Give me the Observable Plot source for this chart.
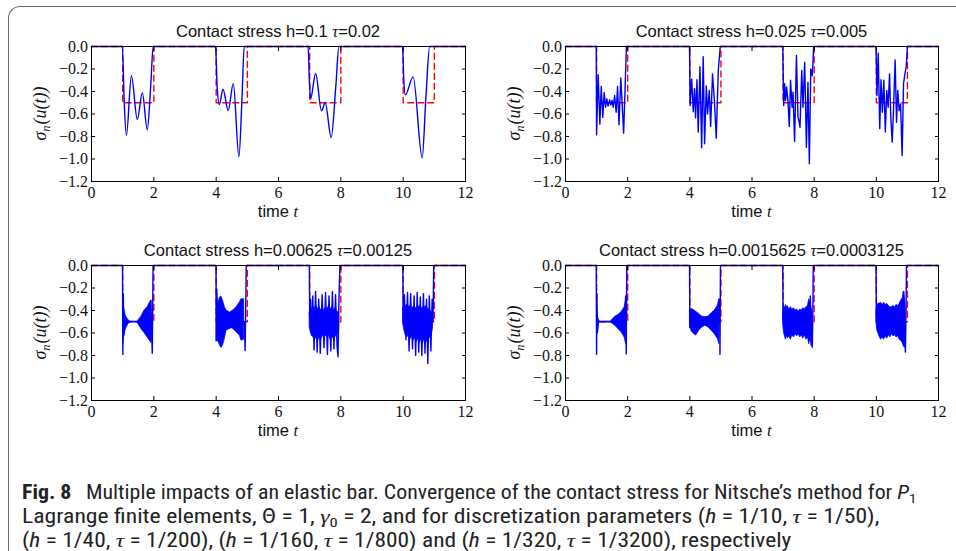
<!DOCTYPE html>
<html>
<head>
<meta charset="utf-8">
<script src="https://cdn.jsdelivr.net/npm/d3@7"></script>
<script src="https://cdn.jsdelivr.net/npm/@observablehq/plot@0.6"></script>
<style>
  html, body { margin: 0; padding: 0; background: #fff; width: 956px; height: 551px; overflow: hidden; }
  #root { position: relative; width: 956px; height: 551px; overflow: hidden; background: #fff; }
  #frame { position: absolute; left: 8px; top: 6px; width: 1000px; height: 620px;
           border-top: 1.5px solid #6a6a6a; border-left: 1.5px solid #6a6a6a; border-top-left-radius: 12px; }
  .panel { position: absolute; }
  .panel text, .panel g[aria-label$="tick label"] { font-family: 'Liberation Serif', 'Times New Roman', serif !important; font-size: 16px !important; font-variant: normal !important; }
  #overlay { position: absolute; left: 0; top: 0; pointer-events: none; }
</style>
</head>
<body>
<div id="root"><div id="frame"></div></div>
<script>
// ---------- data ----------
const xTicks = [0, 2, 4, 6, 8, 10, 12];
const yTicks = [0, -0.2, -0.4, -0.6, -0.8, -1.0, -1.2];
const contactStart = [1, 4, 7, 10];
const contactEnd = [2, 5, 8, 11];
const obstacleStress = -0.5;

const hValues = ["0.1", "0.025", "0.00625", "0.0015625"];
const tauValues = ["0.02", "0.005", "0.00125", "0.0003125"];

// h = 0.1 (smooth)
const p1Time = [0, 0.99, 1.05, 1.12, 1.28, 1.47, 1.63, 1.79, 1.9, 1.98,
  3.98, 4.03, 4.1, 4.22, 4.385, 4.55, 4.73, 4.83, 4.9,
  6.95, 6.99, 7.03, 7.19, 7.38, 7.5, 7.69, 7.84, 7.94,
  9.98, 10.02, 10.07, 10.32, 10.61, 10.73, 10.85, 12];
const p1Stress = [0, 0, -0.5, -0.79, -0.26, -0.65, -0.41, -0.74, -0.35, 0,
  0, -0.35, -0.515, -0.38, -0.57, -0.33, -0.98, -0.45, 0,
  0, -0.3, -0.465, -0.24, -0.57, -0.5, -0.81, -0.35, 0,
  0, -0.3, -0.43, -0.27, -0.99, -0.45, 0, 0];

// h = 0.025
const p2Time = [0, 0.99, 1.0, 1.05, 1.105, 1.15, 1.2, 1.245, 1.29, 1.33, 1.37, 1.42, 1.46, 1.5, 1.535, 1.58, 1.63, 1.675, 1.72, 1.78, 1.87, 1.96,
  3.99, 4.01, 4.06, 4.11, 4.15, 4.185, 4.23, 4.27, 4.325, 4.38, 4.43, 4.475, 4.53, 4.57, 4.625, 4.67, 4.73, 4.79, 4.85, 4.915, 4.98,
  6.99, 7.02, 7.05, 7.08, 7.115, 7.16, 7.2, 7.24, 7.29, 7.32, 7.37, 7.43, 7.48, 7.51, 7.545, 7.6, 7.64, 7.695, 7.75, 7.8, 7.845, 7.89, 7.94, 7.985,
  9.99, 10.02, 10.06, 10.11, 10.15, 10.195, 10.24, 10.29, 10.335, 10.38, 10.425, 10.465, 10.51, 10.55, 10.605, 10.65, 10.69, 10.735, 10.78, 10.83, 10.875, 10.92, 10.96, 11.0, 12];
const p2Stress = [0, 0, -0.785, -0.25, -0.69, -0.356, -0.63, -0.41, -0.54, -0.465, -0.53, -0.474, -0.52, -0.48, -0.54, -0.436, -0.584, -0.356, -0.696, -0.28, -0.77, 0,
  0, -0.525, -0.29, -0.58, -0.376, -0.634, -0.296, -0.76, -0.18, -0.9, -0.09, -0.865, -0.35, -0.6, -0.39, -0.71, -0.243, -0.48, -0.815, -0.213, 0,
  0, -0.525, -0.33, -0.48, -0.36, -0.495, -0.71, -0.3, -0.54, -0.406, -0.845, -0.08, -0.63, -0.66, -0.72, -0.213, -0.54, -0.14, -0.895, -0.317, -1.043, -0.2, -0.26, 0,
  0, -0.435, -0.06, -0.73, -0.296, -0.584, -0.3, -0.76, -0.39, -0.54, -0.243, -0.628, -0.85, -0.584, -0.12, -0.673, -0.39, -0.57, -0.51, -0.97, -0.33, -0.243, -0.18, 0, 0];

// h = 0.00625 : trace with spikes + dense oscillation band
const p3Time = [0, 0.995, 1.005, 1.02, 1.035, 1.1, 1.88, 1.9, 1.95, 1.975,
  3.995, 4.005, 4.02, 4.04, 4.9, 4.93, 4.965,
  6.99, 7.0, 7.03, 7.06, 7.1, 7.14, 7.19, 7.24, 7.29, 7.34, 7.4, 7.46, 7.51, 7.57, 7.62, 7.68, 7.73, 7.78, 7.83, 7.88, 7.91, 7.94, 7.97,
  9.99, 10.0, 10.04, 10.09, 10.14, 10.19, 10.24, 10.3, 10.35, 10.4, 10.45, 10.5, 10.55, 10.6, 10.65, 10.7, 10.75, 10.79, 10.84, 10.89, 10.93, 10.96, 10.98, 12];
const p3Stress = [0, 0, -0.79, -0.25, -0.62, -0.5, -0.5, -0.31, -0.78, 0,
  0, -0.67, -0.21, -0.6, -0.5, -0.756, 0,
  0, -0.45, -0.3, -0.62, -0.27, -0.75, -0.23, -0.77, -0.3, -0.78, -0.26, -0.73, -0.24, -0.79, -0.27, -0.76, -0.23, -0.74, -0.26, -0.72, -0.81, -0.3, 0,
  0, -0.5, -0.26, -0.66, -0.24, -0.76, -0.25, -0.74, -0.27, -0.8, -0.24, -0.77, -0.28, -0.8, -0.25, -0.78, -0.3, -0.87, -0.27, -0.76, -0.3, -0.5, 0, 0];
const p3BandTime = [1.02, 1.05, 1.1, 1.18, 1.23, 1.3, 1.45, 1.5, 1.6, 1.7, 1.8, 1.87, 1.93,
  4.02, 4.06, 4.12, 4.17, 4.22, 4.28, 4.33, 4.44, 4.55, 4.65, 4.76, 4.81, 4.9,
  7.0, 7.04, 7.08, 7.12, 7.17, 7.22, 7.27, 7.32, 7.37, 7.42, 7.47, 7.52, 7.57, 7.62, 7.67, 7.72, 7.77, 7.82, 7.87, 7.92, 7.95,
  10.0, 10.04, 10.08, 10.13, 10.18, 10.23, 10.28, 10.33, 10.38, 10.43, 10.48, 10.53, 10.58, 10.63, 10.68, 10.73, 10.78, 10.83, 10.88, 10.93, 10.96];
const p3BandLow = [-0.7, -0.62, -0.565, -0.525, -0.505, -0.5, -0.5, -0.52, -0.565, -0.6, -0.64, -0.668, -0.69,
  -0.67, -0.668, -0.712, -0.733, -0.71, -0.653, -0.58, -0.55, -0.565, -0.594, -0.623, -0.668, -0.66,
  -0.55, -0.6, -0.62, -0.64, -0.66, -0.64, -0.67, -0.63, -0.66, -0.62, -0.65, -0.62, -0.64, -0.62, -0.66, -0.63, -0.65, -0.62, -0.64, -0.6, -0.57,
  -0.52, -0.58, -0.62, -0.64, -0.62, -0.66, -0.63, -0.67, -0.64, -0.68, -0.65, -0.69, -0.66, -0.7, -0.66, -0.69, -0.67, -0.65, -0.64, -0.6, -0.55];
const p3BandHigh = [-0.3, -0.38, -0.446, -0.485, -0.495, -0.5, -0.5, -0.49, -0.455, -0.4, -0.37, -0.33, -0.31,
  -0.22, -0.343, -0.284, -0.278, -0.313, -0.37, -0.4, -0.417, -0.4, -0.372, -0.328, -0.3, -0.3,
  -0.42, -0.38, -0.39, -0.37, -0.38, -0.36, -0.39, -0.37, -0.4, -0.38, -0.4, -0.37, -0.39, -0.36, -0.39, -0.37, -0.4, -0.38, -0.4, -0.42, -0.46,
  -0.38, -0.34, -0.36, -0.35, -0.37, -0.36, -0.38, -0.37, -0.39, -0.37, -0.38, -0.36, -0.39, -0.37, -0.38, -0.36, -0.38, -0.39, -0.4, -0.43, -0.46];

// h = 0.0015625
const p4Time = [0, 0.99, 1.0, 1.012, 1.025, 1.06, 1.9, 1.935, 1.955, 1.97,
  3.99, 4.0, 4.02, 4.94, 4.955, 4.97, 4.985,
  6.99, 7.0, 7.86, 7.875, 7.9, 7.94, 7.96, 7.97,
  9.99, 10.0, 10.87, 10.885, 10.91, 10.935, 10.955, 10.97, 12];
const p4Stress = [0, 0, -0.79, -0.25, -0.6, -0.5, -0.5, -0.27, -0.786, 0,
  0, -0.55, -0.45, -0.5, -0.3, -0.79, 0,
  0, -0.48, -0.5, -0.27, -0.6, -0.727, -0.4, 0,
  0, -0.45, -0.5, -0.234, -0.6, -0.77, -0.4, 0, 0];
const p4BandTime = [1.02, 1.06, 1.1, 1.15, 1.45, 1.5, 1.6, 1.7, 1.8, 1.9, 1.95,
  4.01, 4.05, 4.1, 4.15, 4.2, 4.3, 4.4, 4.5, 4.6, 4.7, 4.8, 4.9, 4.95,
  7.0, 7.03, 7.06, 7.09, 7.12, 7.15, 7.2, 7.25, 7.3, 7.35, 7.4, 7.45, 7.5, 7.55, 7.6, 7.65, 7.7, 7.75, 7.8, 7.84, 7.88, 7.92, 7.95,
  10.0, 10.03, 10.06, 10.1, 10.15, 10.2, 10.25, 10.3, 10.35, 10.4, 10.45, 10.5, 10.55, 10.6, 10.65, 10.7, 10.75, 10.8, 10.85, 10.88, 10.92, 10.95];
const p4BandLow = [-0.6, -0.53, -0.505, -0.5, -0.5, -0.515, -0.535, -0.565, -0.594, -0.64, -0.7,
  -0.55, -0.58, -0.6, -0.61, -0.624, -0.58, -0.55, -0.535, -0.55, -0.58, -0.61, -0.653, -0.7,
  -0.52, -0.6, -0.63, -0.66, -0.62, -0.65, -0.63, -0.66, -0.62, -0.64, -0.61, -0.63, -0.61, -0.64, -0.62, -0.65, -0.62, -0.66, -0.64, -0.7, -0.66, -0.72, -0.6,
  -0.5, -0.58, -0.6, -0.63, -0.66, -0.64, -0.66, -0.63, -0.65, -0.62, -0.64, -0.61, -0.63, -0.62, -0.64, -0.63, -0.66, -0.67, -0.69, -0.72, -0.73, -0.6];
const p4BandHigh = [-0.4, -0.47, -0.495, -0.5, -0.5, -0.485, -0.455, -0.44, -0.415, -0.372, -0.31,
  -0.4, -0.387, -0.39, -0.4, -0.41, -0.43, -0.455, -0.458, -0.455, -0.425, -0.4, -0.357, -0.3,
  -0.42, -0.36, -0.38, -0.35, -0.37, -0.36, -0.39, -0.37, -0.39, -0.38, -0.4, -0.39, -0.41, -0.39, -0.4, -0.38, -0.39, -0.37, -0.36, -0.3, -0.34, -0.38, -0.42,
  -0.42, -0.36, -0.34, -0.34, -0.33, -0.35, -0.33, -0.35, -0.34, -0.36, -0.37, -0.37, -0.36, -0.37, -0.35, -0.36, -0.34, -0.31, -0.29, -0.23, -0.3, -0.4];

// ---------- build tables ----------
function rows(ts, vs) {
  const n = Math.min(ts.length, vs.length);
  return d3.range(n).map(i => ({t: ts[i], v: vs[i]}));
}
function impactOf(t) {
  let best = 0, bd = Infinity;
  contactStart.forEach((s, i) => { const d = Math.abs(t - (s + contactEnd[i]) / 2); if (d < bd) { bd = d; best = i; } });
  return best;
}
function bandRows(ts, lo, hi) {
  const n = Math.min(ts.length, lo.length, hi.length);
  return d3.range(n).map(i => ({t: ts[i], lo: lo[i], hi: hi[i], impact: impactOf(ts[i])}));
}
const tMax = xTicks[xTicks.length - 1];
const refRows = [{t: xTicks[0], v: 0}];
contactStart.forEach((s, i) => {
  refRows.push({t: s, v: 0}, {t: s, v: obstacleStress}, {t: contactEnd[i], v: obstacleStress}, {t: contactEnd[i], v: 0});
});
refRows.push({t: tMax, v: 0});

const panels = [
  {left: 91, top: 46, w: 374, line: rows(p1Time, p1Stress), curve: "monotone-x", band: null},
  {left: 565, top: 46, w: 373, line: rows(p2Time, p2Stress), curve: "linear", band: null},
  {left: 91, top: 265, w: 374, line: rows(p3Time, p3Stress), curve: "linear", band: bandRows(p3BandTime, p3BandLow, p3BandHigh)},
  {left: 565, top: 265, w: 373, line: rows(p4Time, p4Stress), curve: "linear", band: bandRows(p4BandTime, p4BandLow, p4BandHigh)}
];
const PH = 135;
const ML = 55, MR = 15, MT = 10, MB = 32;

const root = document.getElementById("root");
const fmtY = d3.format(".1f");
const SERIF = "'Liberation Serif', 'Times New Roman', serif";
const SANS = "'Liberation Sans', Arial, sans-serif";

panels.forEach((p) => {
  const marks = [
    Plot.line(refRows, {x: "t", y: "v", stroke: "#ff0000", strokeWidth: 1.4, strokeDasharray: "6,4"})
  ];
  if (p.band) {
    marks.push(Plot.areaY(p.band, {x: "t", y1: "lo", y2: "hi", z: "impact", fill: "#0000ff", stroke: "#0000ff", strokeWidth: 0.7, curve: "linear"}));
  }
  marks.push(Plot.line(p.line, {x: "t", y: "v", stroke: "#0000ff", strokeWidth: 1.4, curve: p.curve}));
  marks.push(Plot.frame({stroke: "#000", strokeWidth: 1}));
  marks.push(Plot.axisX(xTicks, {anchor: "bottom", tickSize: -4, tickPadding: 9, tickFormat: d => String(d), label: null, stroke: "#000", fill: "#111", fontFamily: SERIF}));
  marks.push(Plot.axisX(xTicks, {anchor: "top", tickSize: -4, tickPadding: 0, tickFormat: () => "", label: null, stroke: "#000"}));
  marks.push(Plot.axisY(yTicks, {anchor: "left", tickSize: -4, tickPadding: 7.5, tickFormat: d => fmtY(d), label: null, stroke: "#000", fill: "#111", fontFamily: SERIF}));
  marks.push(Plot.axisY(yTicks, {anchor: "right", tickSize: -4, tickPadding: 0, tickFormat: () => "", label: null, stroke: "#000"}));

  const svg = Plot.plot({
    width: ML + p.w + MR,
    height: MT + PH + MB,
    marginLeft: ML, marginRight: MR, marginTop: MT, marginBottom: MB,
    x: {domain: [xTicks[0], tMax], label: null},
    y: {domain: [yTicks[yTicks.length - 1], yTicks[0]], label: null},
    style: {fontFamily: SERIF, fontSize: "16px", background: "transparent", overflow: "visible", color: "#111"},
    marks
  });
  svg.classList.add("panel");
  svg.style.left = (p.left - ML) + "px";
  svg.style.top = (p.top - MT) + "px";
  root.appendChild(svg);
});

// ---------- text overlay ----------
const overlay = d3.select(root).append("svg")
  .attr("id", "overlay").attr("width", 956).attr("height", 551);

function rich(text, parts) {
  let shift = 0;
  for (const part of parts) {
    const ts = text.append("tspan").text(part.s);
    if (part.font) ts.attr("font-family", part.font);
    if (part.it) ts.attr("font-style", "italic");
    if (part.b) ts.attr("font-weight", "bold");
    const target = part.sub || 0;
    if (target !== shift) { ts.attr("dy", target - shift); shift = target; }
    if (part.sub) ts.attr("font-size", "70%");
    if (part.dx) ts.attr("dx", part.dx);
  }
}

panels.forEach((p, i) => {
  const cx = p.left + p.w / 2;
  const title = overlay.append("text").attr("x", cx).attr("y", p.top - 9)
    .attr("text-anchor", "middle").attr("font-family", SANS).attr("font-size", 16.5)
    .attr("fill", "#111").style("white-space", "pre");
  rich(title, [{s: "Contact stress h=" + hValues[i] + " "}, {s: "τ", font: SERIF, it: true}, {s: "=" + tauValues[i]}]);
  const xl = overlay.append("text").attr("x", cx).attr("y", p.top + 170.5)
    .attr("text-anchor", "middle").attr("font-family", SANS).attr("font-size", 16.5)
    .attr("fill", "#111").style("white-space", "pre");
  rich(xl, [{s: "time "}, {s: "t", font: SERIF, it: true}]);
  const yl = overlay.append("text")
    .attr("transform", `translate(${p.left - 45},${p.top + PH / 2}) rotate(-90)`)
    .attr("text-anchor", "middle").attr("font-family", SERIF).attr("font-size", 18)
    .attr("font-style", "italic").attr("fill", "#111").style("white-space", "pre");
  rich(yl, [{s: "σ"}, {s: "n", sub: 4}, {s: "(u(t))", dx: 1}]);
});

// ---------- caption ----------
const CAP = "'Roboto Condensed', 'DejaVu Sans Condensed', sans-serif";
const captionLines = [
  {y: 499, width: 895, parts: [
    {s: "Fig. 8", b: true},
    {s: "Multiple impacts of an elastic bar. Convergence of the contact stress for Nitsche’s method for ", dx: 13},
    {s: "P", it: true}, {s: "1", sub: 4}
  ]},
  {y: 523, width: 858, parts: [
    {s: "Lagrange finite elements, Θ = 1, "}, {s: "γ", it: true, font: SERIF}, {s: "0", sub: 4},
    {s: " = 2, and for discretization parameters ("}, {s: "h", it: true}, {s: " = 1/10, "},
    {s: "τ", it: true, font: SERIF}, {s: " = 1/50),"}
  ]},
  {y: 547, width: 770, parts: [
    {s: "("}, {s: "h", it: true}, {s: " = 1/40, "}, {s: "τ", it: true, font: SERIF}, {s: " = 1/200), ("},
    {s: "h", it: true}, {s: " = 1/160, "}, {s: "τ", it: true, font: SERIF}, {s: " = 1/800) and ("},
    {s: "h", it: true}, {s: " = 1/320, "}, {s: "τ", it: true, font: SERIF}, {s: " = 1/3200), respectively"}
  ]}
];
captionLines.forEach(line => {
  const g = overlay.append("g");
  const tx = g.append("text").attr("x", 0).attr("y", 0)
    .attr("font-family", CAP).attr("font-size", 19.5).attr("fill", "#222").style("white-space", "pre");
  rich(tx, line.parts);
  const bb = tx.node().getBBox();
  const sx = bb.width > 0 ? line.width / bb.width : 1;
  g.attr("transform", `translate(22,${line.y}) scale(${sx},1)`);
});
</script>
</body>
</html>
